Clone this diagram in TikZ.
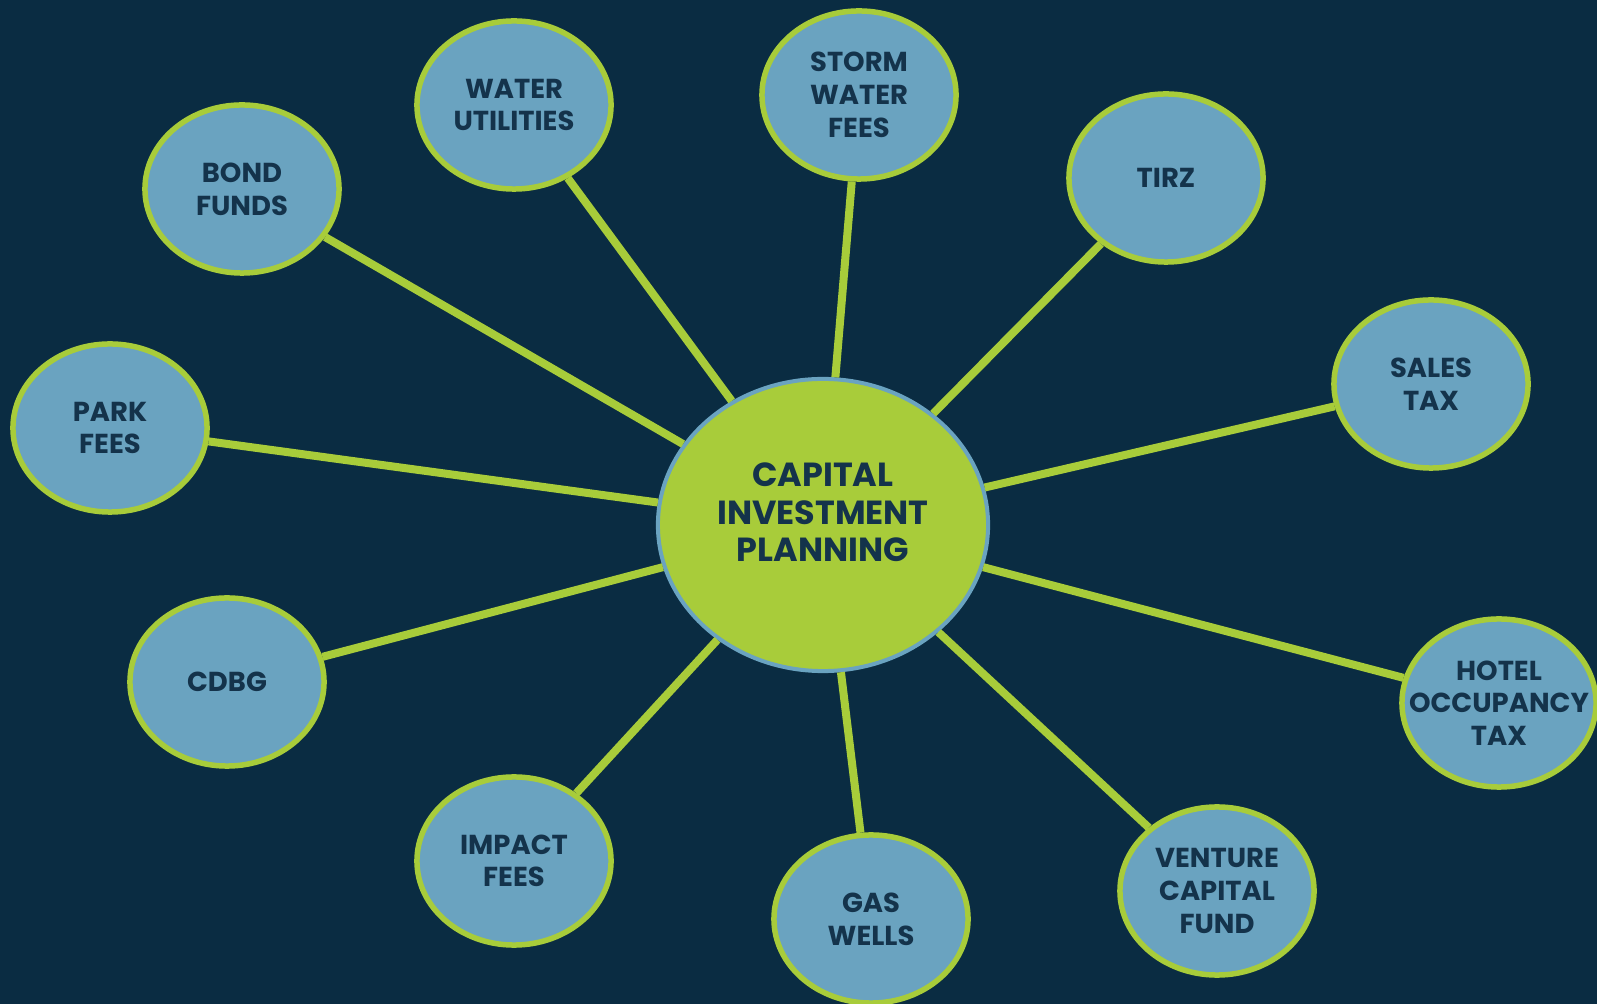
\documentclass[tikz,border=0pt]{standalone}
\usepackage{fontspec}
\setmainfont{Poppins}
\usetikzlibrary{shapes.geometric}
\definecolor{navy}{HTML}{0A2C42}
\definecolor{lime}{HTML}{A8CC3A}
\definecolor{sky}{HTML}{6AA3C0}
\definecolor{ink}{HTML}{14334B}

\begin{document}
\begin{tikzpicture}[x=0.01cm, y=-0.01cm,
  fund/.style={ellipse, draw=lime, line width=0.055cm, fill=sky, minimum width=1.94cm, minimum height=1.68cm, inner sep=0pt, align=center, text=ink, font=\bfseries\fontsize{7.8}{9.3}\selectfont},
  hub/.style={ellipse, draw=sky, line width=0.04cm, fill=lime, minimum width=3.3cm, minimum height=2.92cm, inner sep=0pt, align=center, text=ink, font=\bfseries\fontsize{9.5}{10.6}\selectfont},
  link/.style={draw=lime, line width=0.08cm}]
  \fill[navy] (0,0) rectangle (1597,1004);
  \useasboundingbox (0,0) rectangle (1597,1004);
  \node[hub] (cip) at (823, 525) {CAPITAL\\INVESTMENT\\PLANNING\\[-0.12cm]};
  \node[fund] (bond) at (242, 189) {BOND\\FUNDS};
  \node[fund] (water) at (514, 105) {WATER\\UTILITIES};
  \node[fund] (storm) at (859, 95) {STORM\\WATER\\FEES};
  \node[fund] (tirz) at (1166, 178) {TIRZ};
  \node[fund] (sales) at (1431, 384) {SALES\\TAX};
  \node[fund, inner xsep=-0.5cm] (hotel) at (1499, 703) {HOTEL\\OCCUPANCY\\TAX};
  \node[fund] (venture) at (1217, 891) {VENTURE\\CAPITAL\\FUND};
  \node[fund] (gas) at (871, 919) {GAS\\WELLS};
  \node[fund] (impact) at (514, 861) {IMPACT\\FEES};
  \node[fund] (cdbg) at (227, 682) {CDBG};
  \node[fund] (park) at (110, 428) {PARK\\FEES};
  \draw[link] (cip) -- (bond);
  \draw[link] (cip) -- (water);
  \draw[link] (cip) -- (storm);
  \draw[link] (cip) -- (tirz);
  \draw[link] (cip) -- (sales);
  \draw[link] (cip) -- (hotel);
  \draw[link] (cip) -- (venture);
  \draw[link] (cip) -- (gas);
  \draw[link] (cip) -- (impact);
  \draw[link] (cip) -- (cdbg);
  \draw[link] (cip) -- (park);
\end{tikzpicture}
\end{document}
